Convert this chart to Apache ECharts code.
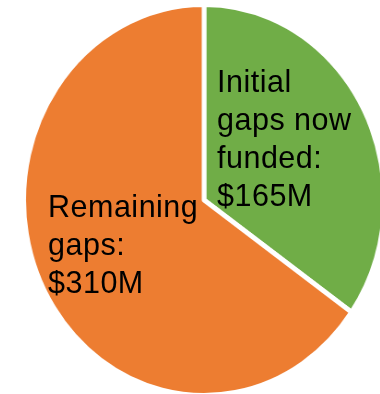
<!DOCTYPE html>
<html><head><meta charset="utf-8">
<script src="https://cdn.jsdelivr.net/npm/echarts@6/dist/echarts.min.js"></script>
<style>
html,body{margin:0;padding:0;background:#fff;width:380px;height:394px;overflow:hidden;}
#wrap{position:relative;width:380px;height:394px;overflow:hidden;background:#fff;}
#pie{position:absolute;left:0;top:0;width:440px;height:394px;transform:scaleX(0.922);transform-origin:204px 200px;}
#labels{position:absolute;left:0;top:0;width:380px;height:394px;}
#labels text{letter-spacing:0.5px;}
</style></head><body>
<div id="wrap"><div id="pie"></div><div id="labels"></div></div>
<script>
// Data
const categories = ['Initial\ngaps now\nfunded:', 'Remaining\ngaps:'];
const values = [165, 310];
const valueLabels = ['$165M', '$310M'];

// Styles / layout
const colors = ['#70AD47', '#ED7D31'];
const labelPos = [{x: 217, y: 62}, {x: 48, y: 187}];

const data = categories.map((c, i) => ({name: c, value: values[i], itemStyle: {color: colors[i]}}));

const pie = echarts.init(document.getElementById('pie'), null, {renderer: 'canvas'});
pie.setOption({
  backgroundColor: 'transparent',
  animation: false,
  series: [{
    type: 'pie',
    center: [204, 200],
    radius: 195.5,
    startAngle: 90,
    clockwise: true,
    silent: true,
    itemStyle: {borderColor: '#fff', borderWidth: 5},
    label: {show: false},
    labelLine: {show: false},
    data: data
  }]
});

const lab = echarts.init(document.getElementById('labels'), null, {renderer: 'svg'});
lab.setOption({
  backgroundColor: 'transparent',
  animation: false,
  series: [{
    type: 'pie',
    center: [204, 200],
    radius: 195.5,
    startAngle: 90,
    clockwise: true,
    silent: true,
    itemStyle: {color: 'rgba(0,0,0,0)', borderWidth: 0},
    label: {
      show: true,
      position: 'inside',
      color: '#000',
      fontFamily: '"Liberation Sans", Arial, sans-serif',
      fontSize: 30.5,
      lineHeight: 38,
      align: 'left',
      formatter: p => p.name + '\n' + valueLabels[p.dataIndex]
    },
    labelLine: {show: false},
    labelLayout: p => ({x: labelPos[p.dataIndex].x, y: labelPos[p.dataIndex].y, align: 'left', verticalAlign: 'top'}),
    data: categories.map((c, i) => ({name: c, value: values[i]}))
  }]
});
</script>
</body></html>
